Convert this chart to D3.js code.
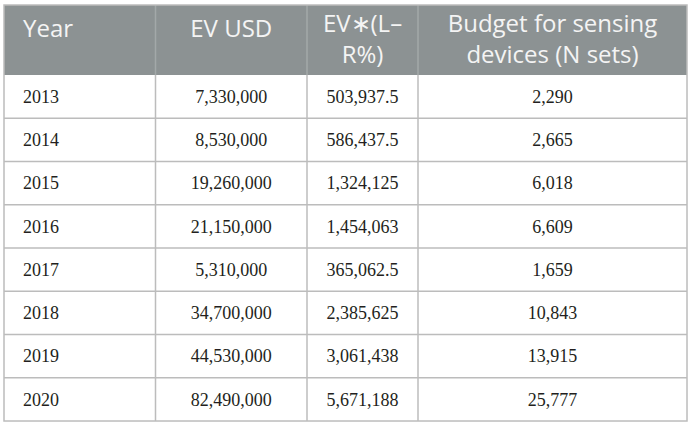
<!DOCTYPE html>
<html>
<head>
<meta charset="utf-8">
<script src="https://cdn.jsdelivr.net/npm/d3@7"></script>
<style>
  html, body { margin: 0; padding: 0; background: #fff; }
  svg { display: block; }
</style>
</head>
<body>
<svg width="692" height="424"></svg>
<script>
// Isi tabel
const headers = [["Year"], ["EV USD"], ["EV\u2217(L\u2013", "R%)"], ["Budget for sensing", "devices (N sets)"]];
const years = ["2013", "2014", "2015", "2016", "2017", "2018", "2019", "2020"];
const evUsd = ["7,330,000", "8,530,000", "19,260,000", "21,150,000", "5,310,000", "34,700,000", "44,530,000", "82,490,000"];
const evLR = ["503,937.5", "586,437.5", "1,324,125", "1,454,063", "365,062.5", "2,385,625", "3,061,438", "5,671,188"];
const budget = ["2,290", "2,665", "6,018", "6,609", "1,659", "10,843", "13,915", "25,777"];

// Tepi kolom (posisi x)
const colEdges = [4, 155.5, 307, 418, 687];
const align = ["start", "middle", "middle", "middle"];
const tableTop = 5, headBottom = 75, tableBottom = 421;

const svg = d3.select("svg");

const y = d3.scaleBand()
    .domain(years)
    .range([headBottom, tableBottom]);

const colX = (i) => align[i] === "start" ? colEdges[i] + 19 : (colEdges[i] + colEdges[i + 1]) / 2;

// Latar header
svg.append("rect")
    .attr("x", colEdges[0]).attr("y", tableTop)
    .attr("width", colEdges[4] - colEdges[0]).attr("height", headBottom - tableTop)
    .attr("fill", "#8c9293");

// Teks header
headers.forEach((lines, i) => {
    const t = svg.append("text")
        .attr("x", colX(i))
        .attr("text-anchor", align[i])
        .attr("font-family", "'Open Sans', sans-serif")
        .attr("font-size", 24)
        .attr("fill", "#f4f4f4");
    const y0 = lines.length === 1 ? 37 : 32;
    lines.forEach((l, k) => {
        t.append("tspan").attr("x", colX(i)).attr("y", y0 + k * 30.5).text(l);
    });
});

// Isi baris
const rows = years.map((yr, i) => [yr, evUsd[i], evLR[i], budget[i]]);

const g = svg.selectAll("g.row")
    .data(rows)
    .enter()
    .append("g")
    .attr("class", "row")
    .attr("transform", d => `translate(0,${y(d[0]) + y.bandwidth() / 2})`);

g.selectAll("text")
    .data(d => d)
    .enter()
    .append("text")
    .attr("x", (d, i) => colX(i))
    .attr("dy", "0.35em")
    .attr("text-anchor", (d, i) => align[i])
    .attr("font-family", "'Liberation Serif', 'Times New Roman', serif")
    .attr("font-size", 18)
    .attr("fill", "#231f20")
    .text(d => d);

// Garis horizontal antar baris
svg.selectAll("line.h")
    .data(years.slice(1))
    .enter()
    .append("line")
    .attr("x1", colEdges[0]).attr("x2", colEdges[4])
    .attr("y1", d => y(d)).attr("y2", d => y(d))
    .attr("stroke", "#bcbcbc").attr("stroke-width", 1.5);

// Garis vertikal di header (lebih terang)
svg.selectAll("line.vh")
    .data(colEdges.slice(1, 4))
    .enter()
    .append("line")
    .attr("x1", d => d).attr("x2", d => d)
    .attr("y1", tableTop).attr("y2", headBottom)
    .attr("stroke", "#a3a8a9").attr("stroke-width", 1.5);

// Garis vertikal di badan tabel
svg.selectAll("line.vb")
    .data(colEdges.slice(1, 4))
    .enter()
    .append("line")
    .attr("x1", d => d).attr("x2", d => d)
    .attr("y1", headBottom).attr("y2", tableBottom)
    .attr("stroke", "#bcbcbc").attr("stroke-width", 1.5);

// Bingkai luar
svg.append("rect")
    .attr("x", colEdges[0]).attr("y", tableTop)
    .attr("width", colEdges[4] - colEdges[0]).attr("height", tableBottom - tableTop)
    .attr("fill", "none")
    .attr("stroke", "#bcbcbc").attr("stroke-width", 1.5);
</script>
</body>
</html>
